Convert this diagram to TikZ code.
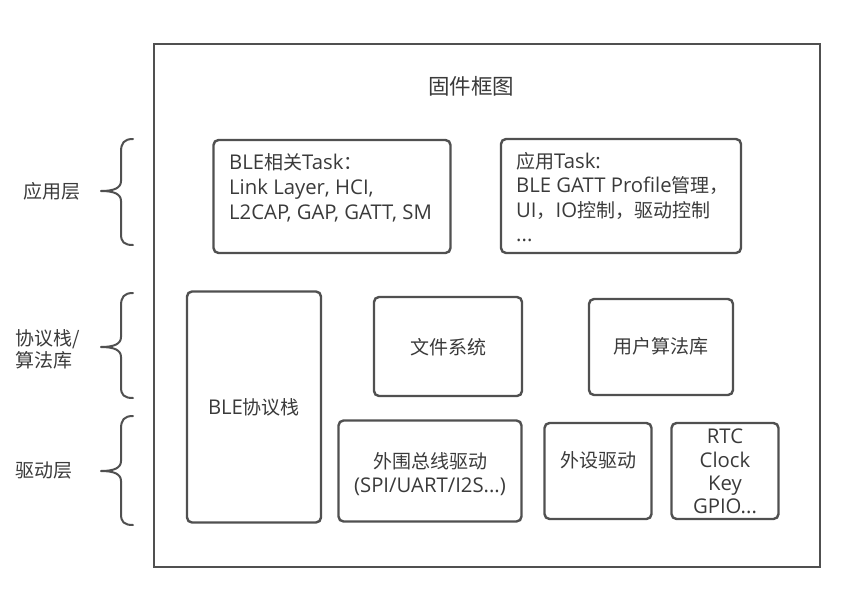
\documentclass[tikz,border=0pt]{standalone}
\usepackage{fontspec}
\setmainfont{Open Sans}
\newfontfamily\cjk{Noto Sans CJK SC}
\newcommand\zh[1]{{\cjk\fontsize{19}{25}\selectfont #1}}
\begin{document}
\begin{tikzpicture}[x=1pt,y=-1pt,
  box/.style={draw=linegray,line width=2.4pt,rounded corners=5pt,inner sep=0pt},
  txt/.style={text=textgray,font=\fontsize{20.3}{25}\selectfont,inner sep=0pt},
  brace/.style={draw=linegray,line width=2pt,line cap=round,line join=round}]
\definecolor{linegray}{HTML}{505050}
\definecolor{textgray}{HTML}{3A3A3A}
\path[use as bounding box] (0,0) rectangle (867,597);
% outer frame
\node[draw=linegray,line width=2.4pt,inner sep=0pt,minimum width=666pt,minimum height=523pt] (frame) at (487,305.5) {};
\node[txt,font=\fontsize{21.5}{24}\selectfont\cjk] (title) at (471,86) {固件框图};
% boxes
\node[box,minimum width=237pt,minimum height=113pt] (ble task) at (332,196.5) {};
\node[box,minimum width=240pt,minimum height=114pt] (app task) at (621,196) {};
\node[box,minimum width=134pt,minimum height=231pt] (blestack) at (254,407) {};
\node[box,minimum width=148pt,minimum height=99pt] (fs) at (448,346.5) {};
\node[box,minimum width=144pt,minimum height=96pt] (alg) at (661,347) {};
\node[box,minimum width=183pt,minimum height=101pt] (bus) at (430,471) {};
\node[box,minimum width=107pt,minimum height=96pt] (periph) at (598,471) {};
\node[box,minimum width=107pt,minimum height=96pt] (rtc) at (725,471) {};
% texts
\node[txt,anchor=west,align=left] (ble task t) at (229,188) {BLE\zh{相关}Task\zh{：}\\Link Layer, HCI,\\L2CAP, GAP, GATT, SM};
\node[txt,anchor=west,align=left,font=\fontsize{20.3}{24.5}\selectfont] (app task t) at (516,197) {\zh{应用}Task:\\BLE GATT Profile\zh{管理，}\\UI\zh{，}IO\zh{控制，驱动控制}\\...};
\node[txt] (blestack t) at (254,407) {BLE\zh{协议栈}};
\node[txt,font=\fontsize{19}{25}\selectfont\cjk] (fs t) at (448,347) {文件系统};
\node[txt,font=\fontsize{19}{25}\selectfont\cjk] (alg t) at (661,346) {用户算法库};
\node[txt,align=center,font=\fontsize{20.3}{24}\selectfont] (bus t) at (430,474) {\zh{外围总线驱动}\\(SPI/UART/I2S...)};
\node[txt,font=\fontsize{19}{25}\selectfont\cjk] (periph t) at (598,460) {外设驱动};
\node[txt,align=center,font=\fontsize{20.3}{23.3}\selectfont] (rtc t) at (725,471.5) {RTC\\Clock\\Key\\GPIO...};
% side labels
\node[txt,font=\fontsize{19}{25}\selectfont\cjk] (lab app) at (52,191) {应用层};
\node[txt,anchor=west,align=left,font=\fontsize{19}{22}\selectfont\cjk] (lab stack) at (15,349) {协议栈/\\算法库};
\node[txt,font=\fontsize{19}{25}\selectfont\cjk] (lab drv) at (44,471) {驱动层};
% braces
\draw[brace] (133,139) .. controls (124,139) and (121,143) .. (121,152) -- (121,181) .. controls (121,188) and (114,191) .. (101,191) .. controls (114,191) and (121,194) .. (121,201) -- (121,234) .. controls (121,242) and (124,245) .. (133,245);
\draw[brace] (133,293) .. controls (124,293) and (121,297) .. (121,306) -- (121,337) .. controls (121,344) and (114,347) .. (101,347) .. controls (114,347) and (121,350) .. (121,357) -- (121,387) .. controls (121,395) and (124,398) .. (133,398);
\draw[brace] (133,416) .. controls (124,416) and (121,420) .. (121,429) -- (121,461) .. controls (121,468) and (114,471) .. (101,471) .. controls (114,471) and (121,474) .. (121,481) -- (121,514) .. controls (121,522) and (124,525) .. (133,525);
\end{tikzpicture}
\end{document}
